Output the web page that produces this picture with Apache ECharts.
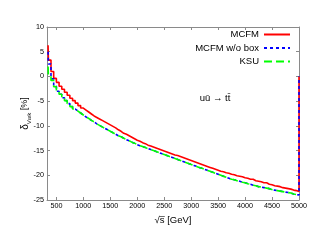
<!DOCTYPE html>
<html><head><meta charset="utf-8">
<script src="https://cdn.jsdelivr.net/npm/echarts@6/dist/echarts.min.js"></script>
<style>html,body{margin:0;padding:0;background:#fff}#c{width:319px;height:247px}</style>
</head><body><div id="c"></div>
<script>
// ---- data ----
const seriesNames = ['MCFM', 'MCFM w/o box', 'KSU'];
const firstEdges = [346, 352];          // narrow threshold bins (GeV)
const regularStart = 400, binWidth = 50, xMin = 326, xMax = 5000;
const xTicks = [500, 1000, 1500, 2000, 2500, 3000, 3500, 4000, 4500, 5000];
const yMin = -25, yMax = 10, yStep = 5;
const annotation = 'u\u016B \u2192 tt\u0304';

const mcfm = [6.3, 3.3,
  1.0, -0.4, -1.2, -2.0, -2.6, -3.2, -3.8, -4.4, -4.9, -5.4, -5.9, -6.4, -6.8, -7.2, -7.6, -8.0, -8.3, -8.6, -8.9, -9.2, -9.5, -9.8,
  -10.1, -10.4, -10.8, -11.1, -11.5, -11.7, -12.0, -12.3, -12.6, -12.9, -13.1, -13.4, -13.6, -13.9, -14.1, -14.3, -14.5, -14.7, -14.9,
  -15.1, -15.3, -15.5, -15.7, -15.9, -16.0, -16.2, -16.4, -16.6, -16.8, -17.0, -17.2, -17.4, -17.6, -17.8, -18.0, -18.2, -18.4, -18.6,
  -18.8, -19.0, -19.2, -19.3, -19.5, -19.6, -19.8, -19.9, -20.1, -20.2, -20.3, -20.5, -20.6, -20.8, -20.8, -21.1, -21.2, -21.3, -21.5,
  -21.5, -21.8, -21.9, -22.1, -22.2, -22.3, -22.5, -22.6, -22.7, -22.8, -23.0, -23.1, -23.3];

const mcfmNoBox = [5.0, 2.5,
  -0.5, -2.0, -3.0, -3.6, -4.3, -4.9, -5.5, -6.1, -6.6, -7.0, -7.4, -7.8, -8.2, -8.5, -8.9, -9.2, -9.6, -9.9, -10.2, -10.5, -10.8, -11.1,
  -11.4, -11.7, -12.0, -12.2, -12.5, -12.8, -13.0, -13.3, -13.5, -13.8, -14.0, -14.2, -14.4, -14.6, -14.8, -15.0, -15.2, -15.4, -15.6,
  -15.8, -16.0, -16.2, -16.4, -16.6, -16.8, -17.0, -17.2, -17.4, -17.6, -17.8, -18.0, -18.2, -18.4, -18.6, -18.8, -19.0, -19.2, -19.4,
  -19.6, -19.8, -20.0, -20.2, -20.4, -20.6, -20.8, -20.9, -21.1, -21.2, -21.4, -21.5, -21.7, -21.8, -22.0, -22.1, -22.3, -22.4, -22.5,
  -22.6, -22.7, -22.9, -23.0, -23.1, -23.2, -23.3, -23.4, -23.5, -23.6, -23.8, -23.9, -24.0];

const ksu = [2.0, 0.0,
  -0.8, -2.1, -3.0, -3.6, -4.3, -4.9, -5.5, -6.1, -6.6, -7.0, -7.4, -7.8, -8.2, -8.5, -8.9, -9.2, -9.6, -9.9, -10.2, -10.5, -10.8, -11.1,
  -11.4, -11.7, -12.0, -12.2, -12.5, -12.8, -13.0, -13.3, -13.5, -13.8, -14.0, -14.2, -14.4, -14.6, -14.8, -15.0, -15.2, -15.4, -15.6,
  -15.8, -16.0, -16.2, -16.4, -16.6, -16.8, -17.0, -17.2, -17.4, -17.6, -17.8, -18.0, -18.2, -18.4, -18.6, -18.8, -19.0, -19.2, -19.4,
  -19.6, -19.8, -20.0, -20.2, -20.4, -20.6, -20.8, -20.9, -21.1, -21.2, -21.4, -21.5, -21.7, -21.8, -22.0, -22.1, -22.3, -22.4, -22.5,
  -22.6, -22.7, -22.9, -23.0, -23.1, -23.2, -23.3, -23.4, -23.5, -23.6, -23.8, -23.9, -24.0];

// ---- build bin edges and step paths ----
const edges = firstEdges.slice();
for (let x = regularStart; x <= xMax; x += binWidth) edges.push(x);

function steps(vals, dropToZero) {
  const pts = [];
  const n = Math.min(vals.length, edges.length - 1);
  for (let i = 0; i < n; i++) {
    pts.push([edges[i], vals[i]]);
    pts.push([edges[i + 1], vals[i]]);
  }
  if (dropToZero) pts.push([edges[n], 0]);
  return pts;
}

const font = 'Liberation Sans';
const frame = '#8a8a8a';
const chart = echarts.init(document.getElementById('c'), null, {renderer: 'canvas'});

function legend(name, top) {
  return {
    data: [name], right: 28, top: top, orient: 'vertical', align: 'right',
    itemWidth: 26, itemHeight: 10, itemGap: 0, padding: 0, selectedMode: false,
    itemStyle: {opacity: 0},
    textStyle: {fontFamily: font, fontSize: 9.5, color: '#000'}
  };
}

const tickCommon = {inside: true, length: 3, lineStyle: {color: frame, width: 1}};

chart.setOption({
  animation: false,
  backgroundColor: '#fff',
  grid: {left: 47, right: 20, top: 27, bottom: 47, outerBoundsMode: 'none', containLabel: false},
  legend: [legend(seriesNames[0], 29.5), legend(seriesNames[1], 43), legend(seriesNames[2], 56.5)],
  xAxis: [{
    type: 'value', min: xMin, max: xMax, position: 'bottom',
    axisLine: {show: true, onZero: false, lineStyle: {color: frame, width: 1}},
    axisTick: Object.assign({customValues: xTicks}, tickCommon),
    axisLabel: {customValues: xTicks, margin: 3, color: '#000', fontFamily: font, fontSize: 7.2,
                formatter: v => String(v)},
    splitLine: {show: false},
    name: '\u221As\u0305 [GeV]', nameLocation: 'middle', nameGap: 14,
    nameTextStyle: {fontFamily: font, fontSize: 9.5, color: '#000'}
  }, {
    type: 'value', min: xMin, max: xMax, position: 'top',
    axisLine: {show: true, onZero: false, lineStyle: {color: frame, width: 1}},
    axisTick: Object.assign({customValues: xTicks}, tickCommon),
    axisLabel: {show: false}, splitLine: {show: false}
  }],
  yAxis: [{
    type: 'value', min: yMin, max: yMax, interval: yStep, position: 'left',
    axisLine: {show: true, onZero: false, lineStyle: {color: frame, width: 1}},
    axisTick: tickCommon,
    axisLabel: {margin: 3, color: '#000', fontFamily: font, fontSize: 7.2},
    splitLine: {show: false},
    name: '{d|\u03B4}{s|Vwk} [%]', nameLocation: 'middle', nameGap: 15, nameRotate: 90,
    nameMoveOverlap: false,
    nameTextStyle: {fontFamily: font, fontSize: 9, color: '#000',
      rich: {d: {fontSize: 10, fontFamily: font, lineHeight: 14},
             s: {fontSize: 6, fontFamily: font, lineHeight: 12, verticalAlign: 'bottom'}}}
  }, {
    type: 'value', min: yMin, max: yMax, interval: yStep, position: 'right',
    axisLine: {show: true, onZero: false, lineStyle: {color: frame, width: 1}},
    axisTick: tickCommon, axisLabel: {show: false}, splitLine: {show: false}
  }],
  graphic: [{
    type: 'text', x: 215, y: 98,
    style: {text: annotation, align: 'center', verticalAlign: 'middle', fontFamily: font, fontSize: 9.5, fill: '#000'}
  }],
  series: [{
    name: seriesNames[0], type: 'line', data: steps(mcfm, true), symbol: 'none', clip: false,
    lineStyle: {color: '#ff0000', width: 1.6, type: 'solid'}, itemStyle: {color: '#ff0000'}
  }, {
    name: seriesNames[1], type: 'line', data: steps(mcfmNoBox, true), symbol: 'none', clip: false,
    lineStyle: {color: '#0000ff', width: 1.6, type: [3, 3]}, itemStyle: {color: '#0000ff'}
  }, {
    name: seriesNames[2], type: 'line', data: steps(ksu, false), symbol: 'none', clip: false,
    lineStyle: {color: '#00ff00', width: 1.6, type: [8, 4]}, itemStyle: {color: '#00ff00'}
  }]
});
</script>
</body></html>
